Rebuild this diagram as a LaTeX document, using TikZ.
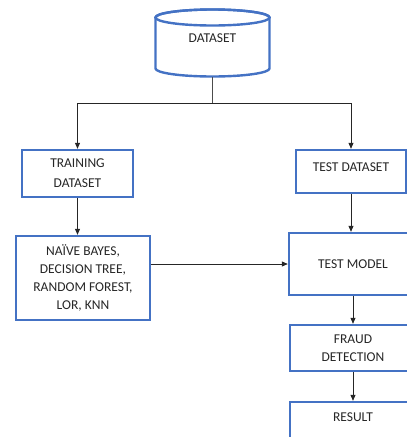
\documentclass[tikz,border=0pt]{standalone}
\usepackage{fontspec}
\setmainfont{Carlito}
\usetikzlibrary{arrows.meta}
\definecolor{boxblue}{RGB}{68,114,196}
\tikzset{
  box/.style={draw=boxblue, line width=2.4pt, align=center, inner sep=0pt,
    font=\fontsize{13.5}{18}\selectfont, text=black!85},
  arr/.style={draw=black!85, line width=0.8pt, -{Triangle[length=6pt,width=5pt]}},
  ln/.style={draw=black!70, line width=0.8pt}
}
\begin{document}
\begin{tikzpicture}[x=1pt,y=-1pt]
\useasboundingbox (0,0) rectangle (407,437);
\clip (0,0) rectangle (407,437);
% cylinder
\draw[draw=boxblue, line width=2.4pt, fill=white]
  (155.5,17.5) -- (155.5,68.5) arc[start angle=180, end angle=360, x radius=57, y radius=-8]
  -- (269.5,17.5) arc[start angle=0, end angle=180, x radius=57, y radius=-8] -- cycle;
\draw[draw=boxblue, line width=2.4pt] (212.5,17.5) ellipse[x radius=57, y radius=8];
\node[font=\fontsize{13.5}{18}\selectfont, text=black!85] (ds) at (212.5,38) {DATASET};
\coordinate (dsb) at (212.5,77);
\coordinate (split) at (212.5,103);
% boxes
\node[box, minimum width=111pt, minimum height=47pt] (train) at (77.5,173.5) {TRAINING\\[2pt]DATASET};
\node[box, minimum width=134pt, minimum height=84pt] (algo) at (83,278) {NAÏVE BAYES,\\DECISION TREE,\\RANDOM FOREST,\\LOR, KNN};
\node[box, minimum width=110pt, minimum height=43pt] (testds) at (351,171.5) {\raisebox{9pt}{TEST DATASET}};
\node[box, minimum width=128pt, minimum height=62pt] (tm) at (353,264) {TEST MODEL};
\node[box, minimum width=126pt, minimum height=46pt] (fraud) at (353,348) {FRAUD\\DETECTION};
\node[box, minimum width=126pt, minimum height=44pt] (res) at (353,424) {\raisebox{14pt}{RESULT}};
% connectors
\draw[ln] (dsb) -- (split);
\draw[arr] (split) -| (train.north);
\draw[arr] (split) -| (testds.north);
\draw[arr] (train.south) -- (train.south |- algo.north);
\draw[arr] (algo.east |- tm.west) -- (tm.west);
\draw[arr] (testds.south) -- (testds.south |- tm.north);
\draw[arr] (tm.south) -- (fraud.north);
\draw[arr] (fraud.south) -- (res.north);
\end{tikzpicture}
\end{document}
